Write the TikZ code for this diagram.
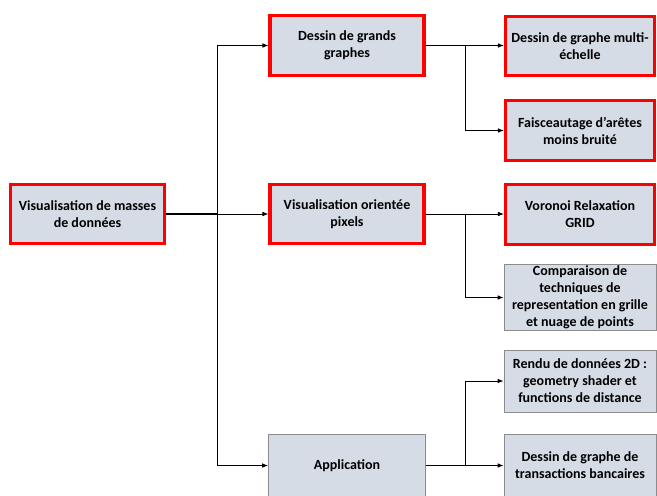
\documentclass[tikz,border=0pt]{standalone}
\usepackage{fontspec}
\setmainfont{Carlito}
\usetikzlibrary{arrows.meta}
\definecolor{boxfill}{RGB}{214,220,229}
\definecolor{boxred}{RGB}{255,0,0}
\definecolor{boxgray}{RGB}{140,140,140}
\begin{document}
\begin{tikzpicture}[x=0.75pt,y=-0.75pt,
  every node/.style={font=\fontsize{10.5}{12.7}\selectfont\bfseries, align=center, inner sep=1pt},
  redbox/.style={draw=boxred, line width=2.3pt, fill=boxfill, minimum height=59.5*0.75pt},
  graybox/.style={draw=boxgray, line width=0.6pt, fill=boxfill, minimum height=62*0.75pt},
  lvlone/.style={minimum width=154*0.75pt},
  lvltwo/.style={minimum width=154*0.75pt},
  lvlthree/.style={minimum width=149*0.75pt},
  conn/.style={line width=0.7pt, draw=black},
  arr/.style={conn, -{Latex[length=4.5pt,width=3.5pt]}}
]
\useasboundingbox (0,0) rectangle (657,496);
% nodes
\node[redbox, lvlone] (root) at (87.5,214) {Visualisation de masses\\de données};
\node[redbox, lvltwo] (grands) at (347,45.5) {Dessin de grands\\graphes};
\node[redbox, lvltwo] (pix) at (347,214) {Visualisation orientée\\pixels};
\node[graybox, lvltwo, minimum width=157*0.75pt] (app) at (347,465.5) {Application};
\node[redbox, lvlthree] (multi) at (580,46) {Dessin de graphe multi-\\échelle};
\node[redbox, lvlthree] (faisc) at (580,130.5) {Faisceautage d’arêtes\\moins bruité};
\node[redbox, lvlthree] (vor) at (580,214.5) {Voronoi Relaxation\\GRID};
\node[graybox, lvlthree, minimum width=152*0.75pt] (comp) at (580,297.5) {Comparaison de\\techniques de\\representation en grille\\et nuage de points};
\node[graybox, lvlthree, minimum width=152*0.75pt] (rendu) at (580,381) {Rendu de données 2D :\\geometry shader et\\functions de distance};
\node[graybox, lvlthree, minimum width=152*0.75pt] (trans) at (580,465.5) {Dessin de graphe de\\transactions bancaires};
% junctions
\coordinate (t) at (217,214);
\coordinate (b1) at (465,45.5);
\coordinate (b2) at (465,214);
\coordinate (b3) at (465,465.5);
% connectors
\draw[conn, line width=1.1pt] (root.east) -- (t);
\draw[arr] (t) -- (pix.west);
\draw[arr] (t) |- (grands.west);
\draw[arr] (t) |- (app.west);
\draw[conn] (grands.east) -- (b1);
\draw[arr] (b1) -- (multi.west |- b1);
\draw[arr] (b1) |- (faisc.west);
\draw[conn] (pix.east) -- (b2);
\draw[arr] (b2) -- (vor.west |- b2);
\draw[arr] (b2) |- (comp.west);
\draw[conn, line width=1.1pt] (app.east) -- (b3);
\draw[arr] (b3) -- (trans.west);
\draw[arr] (b3) |- (rendu.west);
\end{tikzpicture}
\end{document}
